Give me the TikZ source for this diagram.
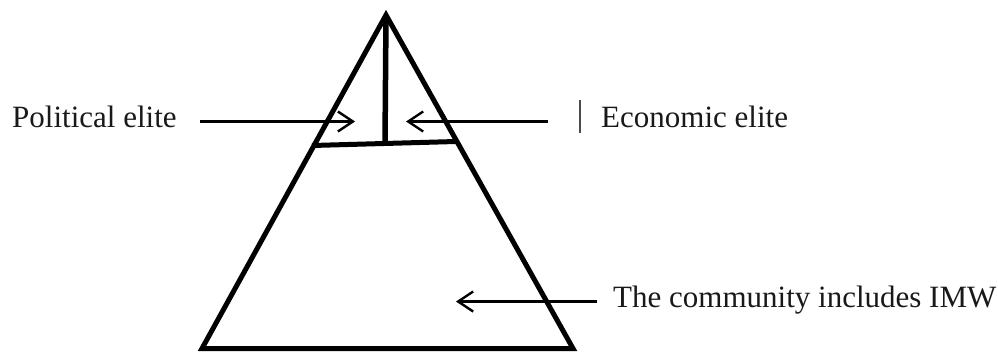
\documentclass[tikz,border=0pt]{standalone}
\usepackage{fontspec}
\setmainfont{Liberation Serif}
\usetikzlibrary{arrows.meta}
\begin{document}
\begin{tikzpicture}[x=1pt,y=-1pt,
  lbl/.style={inner sep=0pt,anchor=base west,font=\fontsize{31}{37}\selectfont,text=black!90},
  side/.style={line width=5pt,line join=miter},
  ptr/.style={line width=2.4pt,-{Straight Barb[length=15pt,width=20pt,line width=2.4pt]}}]
\useasboundingbox (0,0) rectangle (998,351);
% pyramid
\coordinate (apex) at (386,15);
\coordinate (bl) at (202,348.5);
\coordinate (br) at (573,348.5);
\coordinate (barL) at (312,145.5);
\coordinate (barR) at (456,141.5);
\coordinate (barM) at (385,143.5);
\draw[side] (bl) -- (apex) -- (br) -- cycle;
\draw[line width=5pt] (barL) -- (barR);
\draw[line width=5.5pt] (apex) -- (barM);
% labels
\node[lbl] (pol) at (12,127) {Political elite};
\node[lbl] (eco) at (601,127) {Economic elite};
\node[lbl] (com) at (613,307) {The community includes IMW};
% arrows
\coordinate (polS) at (200,121.5);
\coordinate (polT) at (355,121.5);
\coordinate (ecoS) at (548,121.5);
\coordinate (ecoT) at (406,121.5);
\coordinate (comS) at (597,301.5);
\coordinate (comT) at (456,301.5);
\draw[ptr] (polS) -- (polT);
\draw[ptr] (ecoS) -- (ecoT);
\draw[ptr] (comS) -- (comT);
% small bar
\coordinate (vbT) at (580,100);
\coordinate (vbB) at (580,133);
\draw[line width=1.2pt,black!70] (vbT) -- (vbB);
\end{tikzpicture}
\end{document}
